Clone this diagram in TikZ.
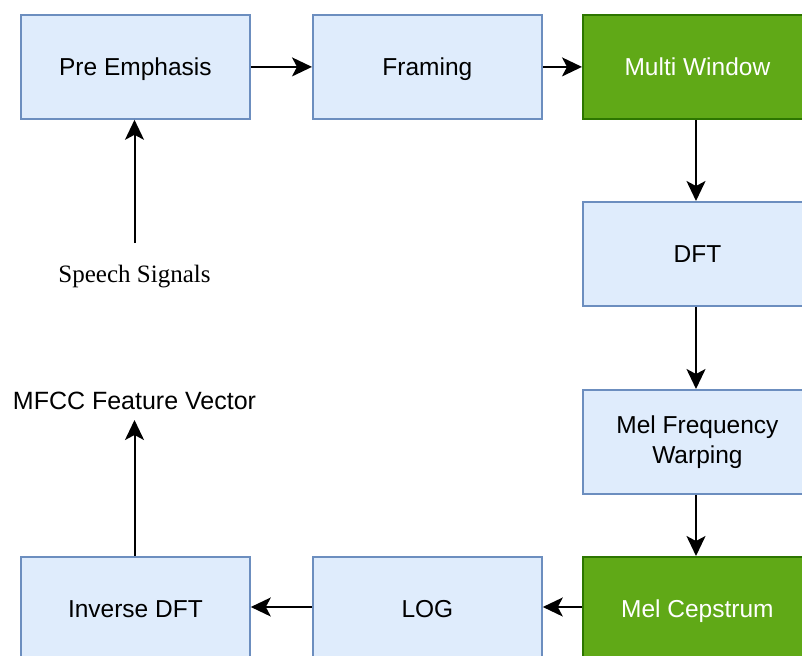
\documentclass[tikz,border=0pt]{standalone}
\usepackage{fontspec}
\setmainfont{Liberation Sans}
\newfontfamily\timesf{Liberation Serif}
\usetikzlibrary{arrows.meta}
\definecolor{bfill}{HTML}{DFECFC}
\definecolor{bdraw}{HTML}{6C8EBF}
\definecolor{gfill}{HTML}{60A917}
\definecolor{gdraw}{HTML}{2D7600}
\tikzset{
  x=1pt,y=-1pt,
  bluebox/.style={draw=bdraw,fill=bfill,line width=1.8pt,minimum width=229pt,minimum height=104pt,inner sep=0pt,align=center,font=\fontsize{24.5}{30}\selectfont,anchor=north west,text height=18pt,text depth=0pt},
  twoline/.style={text height=,text depth=},
  greenbox/.style={bluebox,draw=gdraw,fill=gfill,text=white},
  conn/.style={line width=2pt,-{Stealth[length=20pt,width=19pt,inset=5pt]}},
  lbl/.style={font=\fontsize{25}{30}\selectfont,inner sep=0pt}
}
\begin{document}
\begin{tikzpicture}
\useasboundingbox (0,0) rectangle (802,655);
\node[bluebox] (pre) at (20,14) {Pre Emphasis};
\node[bluebox] (fram) at (312,14) {Framing};
\node[greenbox] (multi) at (582,14) {Multi Window};
\node[bluebox] (dft) at (582,201) {DFT};
\node[bluebox,twoline] (mel) at (582,389) {Mel Frequency\\Warping};
\node[greenbox] (ceps) at (582,556) {Mel Cepstrum};
\node[bluebox] (log) at (312,556) {LOG};
\node[bluebox] (inv) at (20,556) {Inverse DFT};
\node[lbl,font=\timesf\fontsize{25}{30}\selectfont] (speech) at (134.5,277) {Speech Signals};
\node[lbl] (mfcc) at (134.5,401) {MFCC Feature Vector};
\coordinate (sstart) at (134.5,243);
\coordinate (mend) at (134.5,420);
\draw[conn] (pre) -- (fram);
\draw[conn] (fram) -- (multi);
\draw[conn] (multi.south -| 696,0) -- (dft.north -| 696,0);
\draw[conn] (dft.south -| 696,0) -- (mel.north -| 696,0);
\draw[conn] (mel.south -| 696,0) -- (ceps.north -| 696,0);
\draw[conn] (ceps.west |- 0,607) -- (log.east |- 0,607);
\draw[conn] (log.west |- 0,607) -- (inv.east |- 0,607);
\draw[conn] (sstart) -- (pre.south -| sstart);
\draw[conn] (inv.north -| mend) -- (mend);
\end{tikzpicture}
\end{document}
